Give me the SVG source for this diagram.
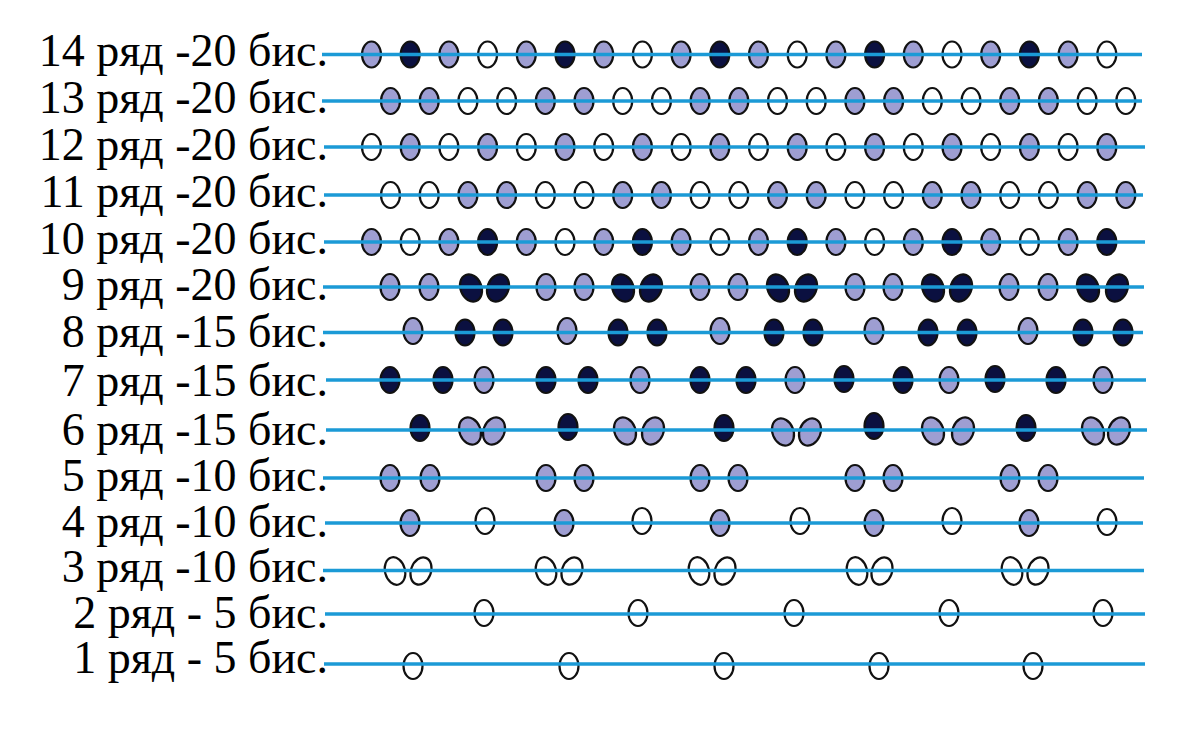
<svg xmlns="http://www.w3.org/2000/svg" width="1200" height="736" viewBox="0 0 1200 736">
<style>
.lbl{font-family:"Liberation Serif","Times New Roman",serif;font-size:46px;fill:#000;text-anchor:end}
ellipse{stroke:#111;stroke-width:2.2}
.L{fill:#9e9ed2}
.D{fill:#0b1040}
.W{fill:#fff}
.ln{stroke:#1b9ad6;stroke-width:3.5;fill:none}
</style>
<rect width="1200" height="736" fill="#fff"/>
<g id="labels">
<text class="lbl" x="328" y="66">14 ряд -20 бис.</text>
<text class="lbl" x="328" y="113">13 ряд -20 бис.</text>
<text class="lbl" x="328" y="160">12 ряд -20 бис.</text>
<text class="lbl" x="328" y="207">11 ряд -20 бис.</text>
<text class="lbl" x="328" y="254">10 ряд -20 бис.</text>
<text class="lbl" x="328" y="300">9 ряд -20 бис.</text>
<text class="lbl" x="328" y="347">8 ряд -15 бис.</text>
<text class="lbl" x="328" y="396">7 ряд -15 бис.</text>
<text class="lbl" x="328" y="445">6 ряд -15 бис.</text>
<text class="lbl" x="328" y="491">5 ряд -10 бис.</text>
<text class="lbl" x="328" y="537">4 ряд -10 бис.</text>
<text class="lbl" x="328" y="582">3 ряд -10 бис.</text>
<text class="lbl" x="328" y="628">2 ряд - 5 бис.</text>
<text class="lbl" x="328" y="673">1 ряд - 5 бис.</text>
</g>
<g id="row14">
<ellipse class="L" cx="371.5" cy="54.5" rx="9.5" ry="13"/><ellipse class="D" cx="410.2" cy="54.5" rx="9.5" ry="13"/><ellipse class="L" cx="448.9" cy="54.5" rx="9.5" ry="13"/><ellipse class="W" cx="487.6" cy="54.5" rx="9.5" ry="13"/>
<ellipse class="L" cx="526.3" cy="54.5" rx="9.5" ry="13"/><ellipse class="D" cx="565" cy="54.5" rx="9.5" ry="13"/><ellipse class="L" cx="603.7" cy="54.5" rx="9.5" ry="13"/><ellipse class="W" cx="642.4" cy="54.5" rx="9.5" ry="13"/>
<ellipse class="L" cx="681.1" cy="54.5" rx="9.5" ry="13"/><ellipse class="D" cx="719.8" cy="54.5" rx="9.5" ry="13"/><ellipse class="L" cx="758.5" cy="54.5" rx="9.5" ry="13"/><ellipse class="W" cx="797.2" cy="54.5" rx="9.5" ry="13"/>
<ellipse class="L" cx="835.9" cy="54.5" rx="9.5" ry="13"/><ellipse class="D" cx="874.6" cy="54.5" rx="9.5" ry="13"/><ellipse class="L" cx="913.3" cy="54.5" rx="9.5" ry="13"/><ellipse class="W" cx="952" cy="54.5" rx="9.5" ry="13"/>
<ellipse class="L" cx="990.7" cy="54.5" rx="9.5" ry="13"/><ellipse class="D" cx="1029.4" cy="54.5" rx="9.5" ry="13"/><ellipse class="L" cx="1068.1" cy="54.5" rx="9.5" ry="13"/><ellipse class="W" cx="1106.8" cy="54.5" rx="9.5" ry="13"/>
</g>
<g id="row13">
<ellipse class="L" cx="390.5" cy="101" rx="9.5" ry="13"/><ellipse class="L" cx="429.2" cy="101" rx="9.5" ry="13"/><ellipse class="W" cx="467.9" cy="101" rx="9.5" ry="13"/><ellipse class="W" cx="506.6" cy="101" rx="9.5" ry="13"/>
<ellipse class="L" cx="545.3" cy="101" rx="9.5" ry="13"/><ellipse class="L" cx="584" cy="101" rx="9.5" ry="13"/><ellipse class="W" cx="622.7" cy="101" rx="9.5" ry="13"/><ellipse class="W" cx="661.4" cy="101" rx="9.5" ry="13"/>
<ellipse class="L" cx="700.1" cy="101" rx="9.5" ry="13"/><ellipse class="L" cx="738.8" cy="101" rx="9.5" ry="13"/><ellipse class="W" cx="777.5" cy="101" rx="9.5" ry="13"/><ellipse class="W" cx="816.2" cy="101" rx="9.5" ry="13"/>
<ellipse class="L" cx="854.9" cy="101" rx="9.5" ry="13"/><ellipse class="L" cx="893.6" cy="101" rx="9.5" ry="13"/><ellipse class="W" cx="932.3" cy="101" rx="9.5" ry="13"/><ellipse class="W" cx="971" cy="101" rx="9.5" ry="13"/>
<ellipse class="L" cx="1009.7" cy="101" rx="9.5" ry="13"/><ellipse class="L" cx="1048.4" cy="101" rx="9.5" ry="13"/><ellipse class="W" cx="1087.1" cy="101" rx="9.5" ry="13"/><ellipse class="W" cx="1125.8" cy="101" rx="9.5" ry="13"/>
</g>
<g id="row12">
<ellipse class="W" cx="371.5" cy="147" rx="9.5" ry="13"/><ellipse class="L" cx="410.2" cy="147" rx="9.5" ry="13"/><ellipse class="W" cx="448.9" cy="147" rx="9.5" ry="13"/><ellipse class="L" cx="487.6" cy="147" rx="9.5" ry="13"/>
<ellipse class="W" cx="526.3" cy="147" rx="9.5" ry="13"/><ellipse class="L" cx="565" cy="147" rx="9.5" ry="13"/><ellipse class="W" cx="603.7" cy="147" rx="9.5" ry="13"/><ellipse class="L" cx="642.4" cy="147" rx="9.5" ry="13"/>
<ellipse class="W" cx="681.1" cy="147" rx="9.5" ry="13"/><ellipse class="L" cx="719.8" cy="147" rx="9.5" ry="13"/><ellipse class="W" cx="758.5" cy="147" rx="9.5" ry="13"/><ellipse class="L" cx="797.2" cy="147" rx="9.5" ry="13"/>
<ellipse class="W" cx="835.9" cy="147" rx="9.5" ry="13"/><ellipse class="L" cx="874.6" cy="147" rx="9.5" ry="13"/><ellipse class="W" cx="913.3" cy="147" rx="9.5" ry="13"/><ellipse class="L" cx="952" cy="147" rx="9.5" ry="13"/>
<ellipse class="W" cx="990.7" cy="147" rx="9.5" ry="13"/><ellipse class="L" cx="1029.4" cy="147" rx="9.5" ry="13"/><ellipse class="W" cx="1068.1" cy="147" rx="9.5" ry="13"/><ellipse class="L" cx="1106.8" cy="147" rx="9.5" ry="13"/>
</g>
<g id="row11">
<ellipse class="W" cx="390.5" cy="195" rx="9.5" ry="13"/><ellipse class="W" cx="429.2" cy="195" rx="9.5" ry="13"/><ellipse class="L" cx="467.9" cy="195" rx="9.5" ry="13"/><ellipse class="L" cx="506.6" cy="195" rx="9.5" ry="13"/>
<ellipse class="W" cx="545.3" cy="195" rx="9.5" ry="13"/><ellipse class="W" cx="584" cy="195" rx="9.5" ry="13"/><ellipse class="L" cx="622.7" cy="195" rx="9.5" ry="13"/><ellipse class="L" cx="661.4" cy="195" rx="9.5" ry="13"/>
<ellipse class="W" cx="700.1" cy="195" rx="9.5" ry="13"/><ellipse class="W" cx="738.8" cy="195" rx="9.5" ry="13"/><ellipse class="L" cx="777.5" cy="195" rx="9.5" ry="13"/><ellipse class="L" cx="816.2" cy="195" rx="9.5" ry="13"/>
<ellipse class="W" cx="854.9" cy="195" rx="9.5" ry="13"/><ellipse class="W" cx="893.6" cy="195" rx="9.5" ry="13"/><ellipse class="L" cx="932.3" cy="195" rx="9.5" ry="13"/><ellipse class="L" cx="971" cy="195" rx="9.5" ry="13"/>
<ellipse class="W" cx="1009.7" cy="195" rx="9.5" ry="13"/><ellipse class="W" cx="1048.4" cy="195" rx="9.5" ry="13"/><ellipse class="L" cx="1087.1" cy="195" rx="9.5" ry="13"/><ellipse class="L" cx="1125.8" cy="195" rx="9.5" ry="13"/>
</g>
<g id="row10">
<ellipse class="L" cx="371.5" cy="242" rx="9.5" ry="13"/><ellipse class="W" cx="410.2" cy="242" rx="9.5" ry="13"/><ellipse class="L" cx="448.9" cy="242" rx="9.5" ry="13"/><ellipse class="D" cx="487.6" cy="242" rx="9.5" ry="13"/>
<ellipse class="L" cx="526.3" cy="242" rx="9.5" ry="13"/><ellipse class="W" cx="565" cy="242" rx="9.5" ry="13"/><ellipse class="L" cx="603.7" cy="242" rx="9.5" ry="13"/><ellipse class="D" cx="642.4" cy="242" rx="9.5" ry="13"/>
<ellipse class="L" cx="681.1" cy="242" rx="9.5" ry="13"/><ellipse class="W" cx="719.8" cy="242" rx="9.5" ry="13"/><ellipse class="L" cx="758.5" cy="242" rx="9.5" ry="13"/><ellipse class="D" cx="797.2" cy="242" rx="9.5" ry="13"/>
<ellipse class="L" cx="835.9" cy="242" rx="9.5" ry="13"/><ellipse class="W" cx="874.6" cy="242" rx="9.5" ry="13"/><ellipse class="L" cx="913.3" cy="242" rx="9.5" ry="13"/><ellipse class="D" cx="952" cy="242" rx="9.5" ry="13"/>
<ellipse class="L" cx="990.7" cy="242" rx="9.5" ry="13"/><ellipse class="W" cx="1029.4" cy="242" rx="9.5" ry="13"/><ellipse class="L" cx="1068.1" cy="242" rx="9.5" ry="13"/><ellipse class="D" cx="1106.8" cy="242" rx="9.5" ry="13"/>
</g>
<g id="row9">
<ellipse class="L" cx="390" cy="287" rx="9.5" ry="13"/><ellipse class="L" cx="429" cy="287" rx="9.5" ry="13"/>
<ellipse class="D" cx="471" cy="288" rx="10.5" ry="14" transform="rotate(-22 471 288)"/><ellipse class="D" cx="498" cy="288" rx="10.5" ry="14" transform="rotate(22 498 288)"/>
<ellipse class="L" cx="546" cy="287" rx="9.5" ry="13"/><ellipse class="L" cx="584" cy="287" rx="9.5" ry="13"/>
<ellipse class="D" cx="623" cy="288" rx="10.5" ry="14" transform="rotate(-22 623 288)"/><ellipse class="D" cx="651" cy="288" rx="10.5" ry="14" transform="rotate(22 651 288)"/>
<ellipse class="L" cx="700" cy="287" rx="9.5" ry="13"/><ellipse class="L" cx="738" cy="287" rx="9.5" ry="13"/>
<ellipse class="D" cx="778" cy="288" rx="10.5" ry="14" transform="rotate(-22 778 288)"/><ellipse class="D" cx="806" cy="288" rx="10.5" ry="14" transform="rotate(22 806 288)"/>
<ellipse class="L" cx="855" cy="287" rx="9.5" ry="13"/><ellipse class="L" cx="893" cy="287" rx="9.5" ry="13"/>
<ellipse class="D" cx="933" cy="288" rx="10.5" ry="14" transform="rotate(-22 933 288)"/><ellipse class="D" cx="961" cy="288" rx="10.5" ry="14" transform="rotate(22 961 288)"/>
<ellipse class="L" cx="1009" cy="287" rx="9.5" ry="13"/><ellipse class="L" cx="1048" cy="287" rx="9.5" ry="13"/>
<ellipse class="D" cx="1088" cy="288" rx="10.5" ry="14" transform="rotate(-22 1088 288)"/><ellipse class="D" cx="1117" cy="288" rx="10.5" ry="14" transform="rotate(22 1117 288)"/>
</g>
<g id="row8">
<ellipse class="L" cx="413" cy="331" rx="9.5" ry="13"/><ellipse class="D" cx="465" cy="332.5" rx="9.5" ry="13"/><ellipse class="D" cx="503" cy="332.5" rx="9.5" ry="13"/>
<ellipse class="L" cx="567" cy="331" rx="9.5" ry="13"/><ellipse class="D" cx="618" cy="332.5" rx="9.5" ry="13"/><ellipse class="D" cx="657" cy="332.5" rx="9.5" ry="13"/>
<ellipse class="L" cx="720" cy="331" rx="9.5" ry="13"/><ellipse class="D" cx="774" cy="332.5" rx="9.5" ry="13"/><ellipse class="D" cx="813" cy="332.5" rx="9.5" ry="13"/>
<ellipse class="L" cx="874" cy="331" rx="9.5" ry="13"/><ellipse class="D" cx="928" cy="332.5" rx="9.5" ry="13"/><ellipse class="D" cx="967" cy="332.5" rx="9.5" ry="13"/>
<ellipse class="L" cx="1028" cy="331" rx="9.5" ry="13"/><ellipse class="D" cx="1083" cy="332.5" rx="9.5" ry="13"/><ellipse class="D" cx="1123" cy="332.5" rx="9.5" ry="13"/>
</g>
<g id="row7">
<ellipse class="D" cx="390" cy="380" rx="9.5" ry="13"/><ellipse class="D" cx="443" cy="380" rx="9.5" ry="13"/><ellipse class="L" cx="484" cy="380" rx="9.5" ry="13"/>
<ellipse class="D" cx="546" cy="380" rx="9.5" ry="13"/><ellipse class="D" cx="588" cy="380" rx="9.5" ry="13"/><ellipse class="L" cx="640" cy="380" rx="9.5" ry="13"/>
<ellipse class="D" cx="700" cy="380" rx="9.5" ry="13"/><ellipse class="D" cx="746" cy="380" rx="9.5" ry="13"/><ellipse class="L" cx="795" cy="380" rx="9.5" ry="13"/>
<ellipse class="D" cx="844" cy="379" rx="9.5" ry="13"/><ellipse class="D" cx="903" cy="380" rx="9.5" ry="13"/><ellipse class="L" cx="949" cy="380" rx="9.5" ry="13"/>
<ellipse class="D" cx="995" cy="379" rx="9.5" ry="13"/><ellipse class="D" cx="1056" cy="380" rx="9.5" ry="13"/><ellipse class="L" cx="1103" cy="380" rx="9.5" ry="13"/>
</g>
<g id="row6">
<ellipse class="D" cx="420" cy="428" rx="9.5" ry="13"/>
<ellipse class="L" cx="470" cy="431" rx="10.5" ry="14" transform="rotate(-22 470 431)"/><ellipse class="L" cx="494" cy="431" rx="10.5" ry="14" transform="rotate(22 494 431)"/>
<ellipse class="D" cx="568" cy="427" rx="9.5" ry="13"/>
<ellipse class="L" cx="625" cy="431" rx="10.5" ry="14" transform="rotate(-22 625 431)"/><ellipse class="L" cx="653" cy="431" rx="10.5" ry="14" transform="rotate(22 653 431)"/>
<ellipse class="D" cx="724" cy="428" rx="9.5" ry="13"/>
<ellipse class="L" cx="783" cy="432" rx="10.5" ry="14" transform="rotate(-22 783 432)"/><ellipse class="L" cx="810" cy="432" rx="10.5" ry="14" transform="rotate(22 810 432)"/>
<ellipse class="D" cx="874" cy="426" rx="9.5" ry="13"/>
<ellipse class="L" cx="933" cy="431" rx="10.5" ry="14" transform="rotate(-22 933 431)"/><ellipse class="L" cx="963" cy="431" rx="10.5" ry="14" transform="rotate(22 963 431)"/>
<ellipse class="D" cx="1026" cy="428" rx="9.5" ry="13"/>
<ellipse class="L" cx="1093" cy="431" rx="10.5" ry="14" transform="rotate(-22 1093 431)"/><ellipse class="L" cx="1119" cy="431" rx="10.5" ry="14" transform="rotate(22 1119 431)"/>
</g>
<g id="row5">
<ellipse class="L" cx="390" cy="478" rx="9.5" ry="13"/><ellipse class="L" cx="430" cy="478" rx="9.5" ry="13"/>
<ellipse class="L" cx="546" cy="478" rx="9.5" ry="13"/><ellipse class="L" cx="584" cy="478" rx="9.5" ry="13"/>
<ellipse class="L" cx="700" cy="478" rx="9.5" ry="13"/><ellipse class="L" cx="738" cy="478" rx="9.5" ry="13"/>
<ellipse class="L" cx="855" cy="478" rx="9.5" ry="13"/><ellipse class="L" cx="893" cy="478" rx="9.5" ry="13"/>
<ellipse class="L" cx="1010" cy="478" rx="9.5" ry="13"/><ellipse class="L" cx="1048" cy="478" rx="9.5" ry="13"/>
</g>
<g id="row4">
<ellipse class="L" cx="410" cy="523" rx="9.5" ry="13"/><ellipse class="W" cx="485" cy="521" rx="9.5" ry="13"/>
<ellipse class="L" cx="564" cy="523" rx="9.5" ry="13"/><ellipse class="W" cx="642" cy="521" rx="9.5" ry="13"/>
<ellipse class="L" cx="720" cy="523" rx="9.5" ry="13"/><ellipse class="W" cx="800" cy="521" rx="9.5" ry="13"/>
<ellipse class="L" cx="874" cy="523" rx="9.5" ry="13"/><ellipse class="W" cx="952" cy="521" rx="9.5" ry="13"/>
<ellipse class="L" cx="1029" cy="523" rx="9.5" ry="13"/><ellipse class="W" cx="1107" cy="522" rx="9.5" ry="13"/>
</g>
<g id="row3">
<ellipse class="W" cx="395" cy="571" rx="10" ry="14" transform="rotate(-15 395 571)"/><ellipse class="W" cx="421" cy="571" rx="10" ry="14" transform="rotate(20 421 571)"/>
<ellipse class="W" cx="546" cy="571" rx="10" ry="14" transform="rotate(-15 546 571)"/><ellipse class="W" cx="572" cy="571" rx="10" ry="14" transform="rotate(20 572 571)"/>
<ellipse class="W" cx="699" cy="571" rx="10" ry="14" transform="rotate(-15 699 571)"/><ellipse class="W" cx="725" cy="571" rx="10" ry="14" transform="rotate(20 725 571)"/>
<ellipse class="W" cx="857" cy="571" rx="10" ry="14" transform="rotate(-15 857 571)"/><ellipse class="W" cx="882" cy="571" rx="10" ry="14" transform="rotate(20 882 571)"/>
<ellipse class="W" cx="1012" cy="571" rx="10" ry="14" transform="rotate(-15 1012 571)"/><ellipse class="W" cx="1038" cy="571" rx="10" ry="14" transform="rotate(20 1038 571)"/>
</g>
<g id="row2">
<ellipse class="W" cx="484" cy="613" rx="9.5" ry="13"/><ellipse class="W" cx="638" cy="613" rx="9.5" ry="13"/><ellipse class="W" cx="794" cy="613" rx="9.5" ry="13"/><ellipse class="W" cx="949" cy="613" rx="9.5" ry="13"/><ellipse class="W" cx="1103" cy="613" rx="9.5" ry="13"/>
</g>
<g id="row1">
<ellipse class="W" cx="413" cy="666" rx="9.5" ry="13"/><ellipse class="W" cx="569" cy="666" rx="9.5" ry="13"/><ellipse class="W" cx="724" cy="666" rx="9.5" ry="13"/><ellipse class="W" cx="879" cy="666" rx="9.5" ry="13"/><ellipse class="W" cx="1033" cy="666" rx="9.5" ry="13"/>
</g>
<g id="lines">
<line class="ln" x1="322" y1="54.5" x2="1142" y2="54.5"/>
<line class="ln" x1="322" y1="101" x2="1142" y2="101"/>
<line class="ln" x1="324" y1="147" x2="1145" y2="147"/>
<line class="ln" x1="324" y1="195" x2="1143" y2="195"/>
<line class="ln" x1="324" y1="242" x2="1145" y2="242"/>
<line class="ln" x1="323" y1="287" x2="1144" y2="287"/>
<line class="ln" x1="323" y1="332.5" x2="1143" y2="332.5"/>
<line class="ln" x1="326" y1="380" x2="1146" y2="380"/>
<line class="ln" x1="326" y1="430" x2="1147" y2="430"/>
<line class="ln" x1="323" y1="478" x2="1144" y2="478"/>
<line class="ln" x1="325" y1="523" x2="1143" y2="523"/>
<line class="ln" x1="323" y1="570.5" x2="1144" y2="570.5"/>
<line class="ln" x1="325" y1="614" x2="1145" y2="614"/>
<line class="ln" x1="324" y1="664" x2="1145" y2="664"/>
</g>
</svg>
